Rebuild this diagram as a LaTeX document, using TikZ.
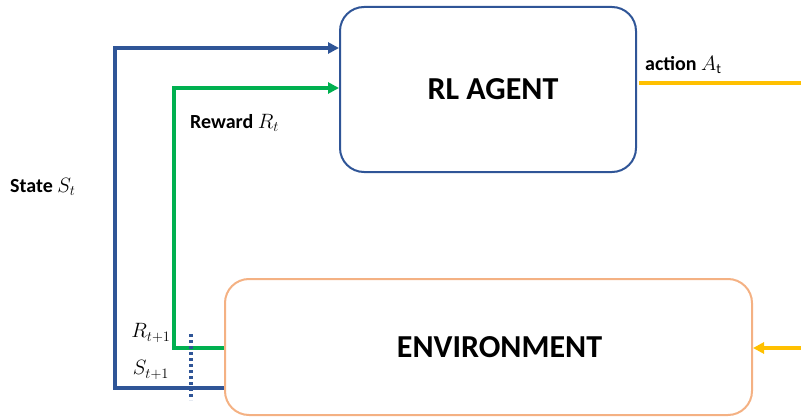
\documentclass[tikz,border=0pt]{standalone}
\usepackage{fontspec}
\setmainfont{Carlito}
\usetikzlibrary{arrows.meta}
\definecolor{agentblue}{HTML}{2F5597}
\definecolor{envorange}{HTML}{F4B183}
\definecolor{rwgreen}{HTML}{00B050}
\definecolor{actyellow}{HTML}{FFC000}
\tikzset{
  box/.style={draw, line width=2pt, rounded corners=24pt, inner sep=0pt},
  title/.style={font=\fontsize{32}{38}\selectfont\bfseries, inner sep=0pt},
  flow/.style={line width=3.5pt, -{Triangle[length=11pt,width=11pt]}},
  lbl/.style={font=\fontsize{20}{24}\selectfont\bfseries, inner sep=0pt, anchor=west},
  sub/.style={font=\fontsize{21}{24}\selectfont, inner sep=0pt},
}
\begin{document}
\begin{tikzpicture}[x=1pt,y=-1pt]
\useasboundingbox (0,0) rectangle (801,420);
\node[box, draw=agentblue, minimum width=296pt, minimum height=165pt, anchor=north west] (agent) at (339,6) {};
\node[title] (agentlbl) at ([xshift=5pt]agent.center) {RL AGENT};
\node[box, draw=envorange, minimum width=527pt, minimum height=136pt, anchor=north west] (env) at (224,278) {};
\node[title] (envlbl) at ([xshift=11pt]env.center) {ENVIRONMENT};
% state loop
\coordinate (sb) at (115,388);
\coordinate (st) at (115,48);
\draw[flow, draw=agentblue] (env.west |- sb) -- (sb) -- (st) -- (st -| agent.west);
% reward loop
\coordinate (rb) at (174,348);
\coordinate (rt) at (174,88);
\draw[flow, draw=rwgreen] (env.west |- rb) -- (rb) -- (rt) -- (rt -| agent.west);
% action
\coordinate (aend) at (801,83);
\draw[actyellow, line width=3.5pt] (agent.east |- aend) ++(2,0) -- (aend);
\coordinate (ein) at (801,348);
\draw[flow, draw=actyellow] (ein) -- (env.east |- ein);
% dotted separator
\coordinate (d1) at (191,334);
\coordinate (d2) at (191,400);
\draw[agentblue, line width=3.5pt, dash pattern=on 3pt off 3pt] (d1) -- (d2);
% labels
\node[lbl] (lstate) at (10,187) {State $S_t$};
\node[lbl] (lrew) at (190,123) {Reward $R_t$};
\node[lbl] (lact) at (645,65) {action $A_{\mathrm{t}}$};
\node[sub] (lr1) at (151,333) {$R_{t+1}$};
\node[sub] (ls1) at (151,370) {$S_{t+1}$};
\end{tikzpicture}
\end{document}
